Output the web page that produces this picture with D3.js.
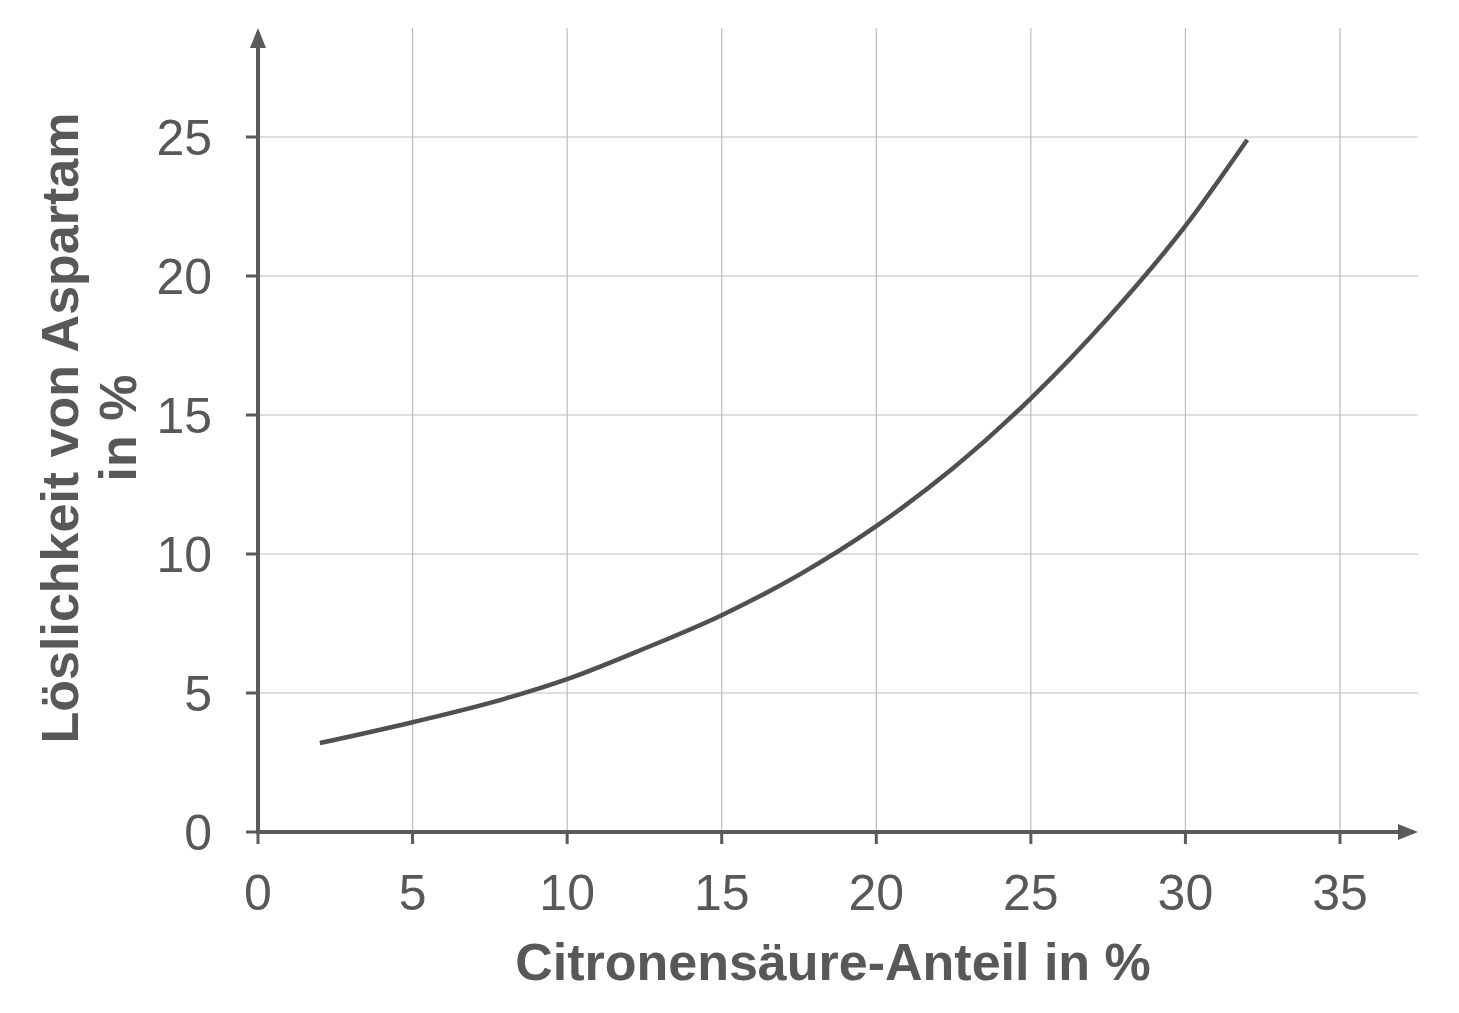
<!DOCTYPE html>
<html>
<head>
<meta charset="utf-8">
<script src="https://cdn.jsdelivr.net/npm/d3@7"></script>
<style>
  body { margin: 0; background: #fff; }
  text { font-family: "Liberation Sans", Arial, sans-serif; fill: #585858; }
</style>
</head>
<body>
<div id="chart"></div>
<script>
// values
const xTicks = [0, 5, 10, 15, 20, 25, 30, 35];
const yTicks = [0, 5, 10, 15, 20, 25];
const citric = [2, 5, 8, 10, 12.5, 15, 17.5, 20, 22.5, 25, 27.5, 30, 32];
const solubility = [3.2, 3.95, 4.8, 5.5, 6.6, 7.8, 9.25, 11.0, 13.1, 15.6, 18.5, 21.8, 24.9];

const width = 1459, height = 1013;
const axisColor = "#5a5a5a", gridColor = "#bdbdbd";

const svg = d3.select("#chart").append("svg")
    .attr("width", width).attr("height", height);

const x = d3.scaleLinear().domain([0, 35]).range([258, 1340]);
const y = d3.scaleLinear().domain([0, 25]).range([832, 137]);
const xEnd = 1418, yTop = 28;

// grid
svg.append("g").selectAll("line").data(xTicks.filter(d => d > 0)).join("line")
    .attr("x1", d => x(d)).attr("x2", d => x(d))
    .attr("y1", yTop).attr("y2", y(0))
    .attr("stroke", gridColor).attr("stroke-width", 1.2);
svg.append("g").selectAll("line").data(yTicks.filter(d => d > 0)).join("line")
    .attr("x1", x(0)).attr("x2", xEnd)
    .attr("y1", d => y(d)).attr("y2", d => y(d))
    .attr("stroke", gridColor).attr("stroke-width", 1.2);

// axes with arrows
svg.append("line").attr("x1", x(0)).attr("x2", xEnd - 4).attr("y1", y(0)).attr("y2", y(0))
    .attr("stroke", axisColor).attr("stroke-width", 4);
svg.append("line").attr("x1", x(0)).attr("x2", x(0)).attr("y1", y(0) + 2).attr("y2", yTop + 4)
    .attr("stroke", axisColor).attr("stroke-width", 4);
svg.append("path").attr("d", `M${xEnd},${y(0)} l-20,-8 l0,16 z`).attr("fill", axisColor);
svg.append("path").attr("d", `M${x(0)},${yTop} l-8,20 l16,0 z`).attr("fill", axisColor);

// tick marks
svg.append("g").selectAll("line").data(xTicks).join("line")
    .attr("x1", d => x(d)).attr("x2", d => x(d))
    .attr("y1", y(0)).attr("y2", y(0) + 12)
    .attr("stroke", axisColor).attr("stroke-width", 3);
svg.append("g").selectAll("line").data(yTicks).join("line")
    .attr("x1", x(0) - 12).attr("x2", x(0))
    .attr("y1", d => y(d)).attr("y2", d => y(d))
    .attr("stroke", axisColor).attr("stroke-width", 3);

// tick labels
svg.append("g").selectAll("text").data(xTicks).join("text")
    .attr("x", d => x(d)).attr("y", 910)
    .attr("text-anchor", "middle").attr("font-size", 50)
    .text(d => d);
svg.append("g").selectAll("text").data(yTicks).join("text")
    .attr("x", 212).attr("y", d => y(d) + 18)
    .attr("text-anchor", "end").attr("font-size", 50)
    .text(d => d);

// titles
svg.append("text").attr("x", 833).attr("y", 980)
    .attr("text-anchor", "middle").attr("font-size", 52).attr("font-weight", "bold")
    .text("Citronensäure-Anteil in %");
const yt = svg.append("text").attr("transform", "translate(0,428) rotate(-90)")
    .attr("text-anchor", "middle").attr("font-size", 52).attr("font-weight", "bold");
yt.append("tspan").attr("x", 0).attr("y", 78).text("Löslichkeit von Aspartam");
yt.append("tspan").attr("x", 0).attr("y", 136).text("in %");

// curve
const pts = citric.map((c, i) => [c, solubility[i]]);
svg.append("path").datum(pts)
    .attr("fill", "none").attr("stroke", "#505050").attr("stroke-width", 4.5)
    .attr("d", d3.line().x(d => x(d[0])).y(d => y(d[1])).curve(d3.curveMonotoneX));
</script>
</body>
</html>
